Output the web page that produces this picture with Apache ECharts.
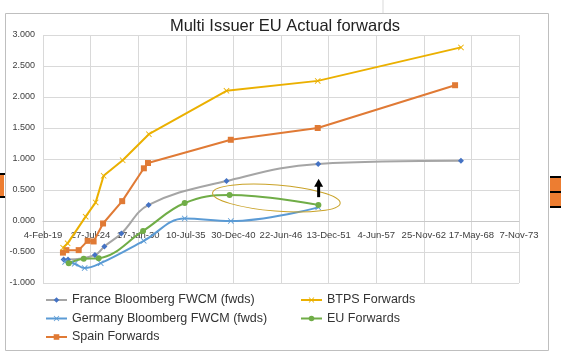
<!DOCTYPE html>
<html>
<head>
<meta charset="utf-8">
<script src="https://cdn.jsdelivr.net/npm/echarts@6/dist/echarts.min.js"></script>
<style>
  html, body { margin: 0; padding: 0; background: #fff; }
  #main { width: 561px; height: 353px; }
</style>
</head>
<body>
<div id="main"></div>
<script>
// series data (dates + values)
const franceDates = ['2021-06-20', '2021-12-20', '2025-01-25', '2026-02-25', '2028-02-10', '2031-04-01', '2040-03-15', '2050-10-01', '2067-03-05'];
const franceVals = [-0.62, -0.62, -0.55, -0.41, -0.20, 0.26, 0.645, 0.92, 0.97];

const btpsDates = ['2021-05-28', '2021-12-05', '2024-01-01', '2025-02-25', '2026-01-25', '2028-04-05', '2031-04-10', '2040-03-15', '2050-09-12', '2067-03-05'];
const btpsVals = [-0.43, -0.36, 0.07, 0.30, 0.73, 0.98, 1.40, 2.10, 2.26, 2.80];

const germanyDates = ['2021-08-20', '2022-09-27', '2023-11-20', '2025-09-25', '2030-09-05', '2035-05-25', '2040-09-12', '2050-10-01'];
const germanyVals = [-0.66, -0.69, -0.76, -0.68, -0.32, 0.04, 0.00, 0.22];

const euDates = ['2022-01-20', '2023-10-10', '2025-07-01', '2030-08-10', '2035-05-25', '2040-07-25', '2050-10-10'];
const euVals = [-0.68, -0.61, -0.60, -0.16, 0.29, 0.42, 0.26];

const spainDates = ['2021-05-22', '2021-10-12', '2023-03-15', '2024-03-25', '2024-12-01', '2026-01-01', '2028-03-15', '2030-09-12', '2031-03-04', '2040-09-12', '2050-09-12', '2066-07-01'];
const spainVals = [-0.51, -0.47, -0.47, -0.32, -0.33, -0.04, 0.32, 0.85, 0.935, 1.31, 1.50, 2.19];

// axis: excel date serials
const xMin = 43500;   // 4-Feb-19
const xMax = 63500;   // 7-Nov-73
const xStep = 2000;
const yMin = -1, yMax = 3, yStep = 0.5;

const months = ['Jan', 'Feb', 'Mar', 'Apr', 'May', 'Jun', 'Jul', 'Aug', 'Sep', 'Oct', 'Nov', 'Dec'];

// 'YYYY-MM-DD' -> excel serial
function toSerial(s) {
  const p = s.split('-').map(Number);
  return Date.UTC(p[0], p[1] - 1, p[2]) / 86400000 + 25569;
}
function serialLabel(v) {
  const d = new Date((v - 25569) * 86400000);
  return d.getUTCDate() + '-' + months[d.getUTCMonth()] + '-' + String(d.getUTCFullYear()).slice(2);
}
function pairs(dates, vals) {
  return dates.map((d, i) => [toSerial(d), vals[i]]);
}

const xMark = 'path://M0,1L1,0L5,4L9,0L10,1L6,5L10,9L9,10L5,6L1,10L0,9L4,5Z';
const font = 'Liberation Sans';

const gridTop = 35, gridBottom = 70, H = 353;
// x axis sits on the zero line, so pull it up from the grid bottom
const plotH = H - gridTop - gridBottom;
const zeroOffset = -plotH * (0 - yMin) / (yMax - yMin);

const chart = echarts.init(document.getElementById('main'));

chart.setOption({
  animation: false,
  backgroundColor: '#fff',
  textStyle: { fontFamily: font },
  title: {
    text: 'Multi Issuer EU Actual forwards',
    left: 280, textAlign: 'center', top: 13,
    textStyle: { fontSize: 16.5, fontWeight: 'normal', color: '#222', fontFamily: font }
  },
  grid: { left: 43, right: 42, top: gridTop, bottom: gridBottom },
  xAxis: {
    type: 'value', min: xMin, max: xMax, interval: xStep,
    position: 'bottom', offset: zeroOffset,
    axisLine: { onZero: false, lineStyle: { color: '#c8c8c8', width: 1 } },
    axisTick: { show: false },
    splitLine: { show: true, lineStyle: { color: '#d9d9d9' } },
    axisLabel: { formatter: serialLabel, fontSize: 9.5, color: '#404040', margin: 9, showMinLabel: true, showMaxLabel: true }
  },
  yAxis: {
    type: 'value', min: yMin, max: yMax, interval: yStep,
    axisLine: { show: false },
    axisTick: { show: false },
    splitLine: { lineStyle: { color: '#d9d9d9' } },
    axisLabel: { formatter: v => v.toFixed(3), fontSize: 9, color: '#404040', margin: 8 }
  },
  legend: [
    {
      data: ['France Bloomberg FWCM (fwds)', 'Germany Bloomberg FWCM (fwds)', 'Spain Forwards'],
      orient: 'vertical', left: 45, top: 293, padding: 0, itemGap: 4.5, itemWidth: 21, itemHeight: 7,
      textStyle: { fontSize: 12.5, color: '#333', fontFamily: font, lineHeight: 14 }
    },
    {
      data: ['BTPS Forwards', 'EU Forwards'],
      orient: 'vertical', left: 300, top: 293, padding: 0, itemGap: 4.5, itemWidth: 21, itemHeight: 7,
      textStyle: { fontSize: 12.5, color: '#333', fontFamily: font, lineHeight: 14 }
    }
  ],
  series: [
    {
      name: 'France Bloomberg FWCM (fwds)', type: 'line', smooth: 0.4,
      data: pairs(franceDates, franceVals),
      symbol: 'diamond', symbolSize: 6,
      lineStyle: { color: '#a5a5a5', width: 2 },
      itemStyle: { color: '#4472c4' }
    },
    {
      name: 'Germany Bloomberg FWCM (fwds)', type: 'line', smooth: 0.4,
      data: pairs(germanyDates, germanyVals),
      symbol: xMark, symbolSize: 6,
      lineStyle: { color: '#5b9bd5', width: 2 },
      itemStyle: { color: '#5b9bd5' }
    },
    {
      name: 'Spain Forwards', type: 'line',
      data: pairs(spainDates, spainVals),
      symbol: 'rect', symbolSize: 6,
      lineStyle: { color: '#e07a35', width: 2 },
      itemStyle: { color: '#e07a35' }
    },
    {
      name: 'BTPS Forwards', type: 'line',
      data: pairs(btpsDates, btpsVals),
      symbol: xMark, symbolSize: 6,
      lineStyle: { color: '#ebb000', width: 2 },
      itemStyle: { color: '#ebb000' }
    },
    {
      name: 'EU Forwards', type: 'line', smooth: 0.4,
      data: pairs(euDates, euVals),
      symbol: 'circle', symbolSize: 6,
      lineStyle: { color: '#70ad47', width: 2 },
      itemStyle: { color: '#70ad47' }
    }
  ]
});

// annotations: ellipse round the EU hump, arrow at the last EU point
const c = chart.convertToPixel({ gridIndex: 0 }, [toSerial('2045-12-10'), 0.37]);
const a = chart.convertToPixel({ gridIndex: 0 }, [toSerial('2050-10-20'), 0.32]);
const tip = chart.convertToPixel({ gridIndex: 0 }, [toSerial('2050-10-20'), 0.68]);

chart.setOption({
  graphic: [
    // spreadsheet bits round the chart object
    { type: 'rect', shape: { x: 0, y: 175, width: 4, height: 22 }, style: { fill: '#ed7d31' }, z: -10 },
    { type: 'line', shape: { x1: 0, y1: 174, x2: 5, y2: 174 }, style: { stroke: '#000', lineWidth: 2 }, z: -10 },
    { type: 'line', shape: { x1: 0, y1: 197, x2: 5, y2: 197 }, style: { stroke: '#000', lineWidth: 2 }, z: -10 },
    { type: 'rect', shape: { x: 550, y: 177, width: 11, height: 30 }, style: { fill: '#ed7d31' }, z: -10 },
    { type: 'line', shape: { x1: 550, y1: 177, x2: 561, y2: 177 }, style: { stroke: '#000', lineWidth: 2 }, z: -10 },
    { type: 'line', shape: { x1: 550, y1: 192, x2: 561, y2: 192 }, style: { stroke: '#000', lineWidth: 2 }, z: -10 },
    { type: 'line', shape: { x1: 550, y1: 207, x2: 561, y2: 207 }, style: { stroke: '#000', lineWidth: 2 }, z: -10 },
    { type: 'line', shape: { x1: 383, y1: 0, x2: 383, y2: 14 }, style: { stroke: '#d9d9d9', lineWidth: 1 }, z: -10 },
    // chart frame
    { type: 'rect', shape: { x: 5.5, y: 13.5, width: 543, height: 337 }, style: { fill: null, stroke: '#bfbfbf', lineWidth: 1 }, z: -5 },
    {
      type: 'ellipse', x: c[0], y: c[1], rotation: -0.08,
      shape: { cx: 0, cy: 0, rx: 64, ry: 13 },
      style: { fill: null, stroke: '#c9a227', lineWidth: 1 }, z: 10
    },
    {
      type: 'line', shape: { x1: a[0], y1: a[1] - 4, x2: tip[0], y2: tip[1] + 7 },
      style: { stroke: '#000', lineWidth: 3 }, z: 11
    },
    {
      type: 'polygon',
      shape: { points: [[tip[0], tip[1]], [tip[0] - 4.5, tip[1] + 8], [tip[0] + 4.5, tip[1] + 8]] },
      style: { fill: '#000' }, z: 11
    }
  ]
});
</script>
</body>
</html>
